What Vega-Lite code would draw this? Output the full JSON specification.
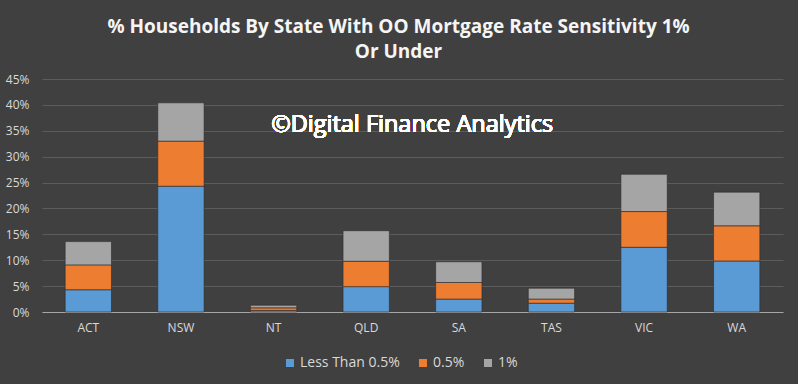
{
  "$schema": "https://vega.github.io/schema/vega-lite/v6.json",
  "width": 741,
  "height": 233,
  "autosize": {"type": "none"},
  "padding": {"left": 42, "top": 79, "right": 15, "bottom": 72},
  "background": "#404040",
  "title": {
    "text": ["% Households By State With OO Mortgage Rate Sensitivity 1%", "Or Under"],
    "anchor": "middle",
    "frame": "group",
    "dx": -14,
    "offset": 11,
    "font": "Open Sans",
    "fontSize": 19,
    "fontWeight": "bold",
    "color": "#f5f5f5",
    "lineHeight": 25
  },
  "config": {
    "view": {"stroke": null},
    "axis": {"labelFont": "Open Sans", "labelColor": "#d9d9d9", "labelFontSize": 12},
    "legend": {"labelFont": "Open Sans", "labelColor": "#d9d9d9", "labelFontSize": 14}
  },
  "data": {
    "values": [
      {"state": "ACT", "series": "Less Than 0.5%", "rank": 1, "value": 0.043},
      {"state": "ACT", "series": "0.5%", "rank": 2, "value": 0.048},
      {"state": "ACT", "series": "1%", "rank": 3, "value": 0.045},
      {"state": "NSW", "series": "Less Than 0.5%", "rank": 1, "value": 0.243},
      {"state": "NSW", "series": "0.5%", "rank": 2, "value": 0.087},
      {"state": "NSW", "series": "1%", "rank": 3, "value": 0.074},
      {"state": "NT", "series": "Less Than 0.5%", "rank": 1, "value": 0.003},
      {"state": "NT", "series": "0.5%", "rank": 2, "value": 0.005},
      {"state": "NT", "series": "1%", "rank": 3, "value": 0.005},
      {"state": "QLD", "series": "Less Than 0.5%", "rank": 1, "value": 0.049},
      {"state": "QLD", "series": "0.5%", "rank": 2, "value": 0.049},
      {"state": "QLD", "series": "1%", "rank": 3, "value": 0.059},
      {"state": "SA", "series": "Less Than 0.5%", "rank": 1, "value": 0.025},
      {"state": "SA", "series": "0.5%", "rank": 2, "value": 0.032},
      {"state": "SA", "series": "1%", "rank": 3, "value": 0.040},
      {"state": "TAS", "series": "Less Than 0.5%", "rank": 1, "value": 0.017},
      {"state": "TAS", "series": "0.5%", "rank": 2, "value": 0.008},
      {"state": "TAS", "series": "1%", "rank": 3, "value": 0.021},
      {"state": "VIC", "series": "Less Than 0.5%", "rank": 1, "value": 0.125},
      {"state": "VIC", "series": "0.5%", "rank": 2, "value": 0.069},
      {"state": "VIC", "series": "1%", "rank": 3, "value": 0.072},
      {"state": "WA", "series": "Less Than 0.5%", "rank": 1, "value": 0.0985},
      {"state": "WA", "series": "0.5%", "rank": 2, "value": 0.068},
      {"state": "WA", "series": "1%", "rank": 3, "value": 0.065}
    ]
  },
  "layer": [
    {
      "mark": {"type": "bar", "stroke": "#2a2a2a", "strokeWidth": 0.6},
      "encoding": {
        "x": {
          "field": "state", "type": "nominal", "sort": null,
          "scale": {"paddingInner": 0.5, "paddingOuter": 0.25},
          "axis": {"title": null, "labelAngle": 0, "ticks": false, "domainColor": "#a6a6a6", "domainWidth": 1.2, "labelPadding": 10, "grid": false}
        },
        "y": {
          "field": "value", "type": "quantitative", "stack": "zero",
          "scale": {"domain": [0, 0.45], "nice": false},
          "axis": {"title": null, "format": ".0%", "values": [0, 0.05, 0.1, 0.15, 0.2, 0.25, 0.3, 0.35, 0.4, 0.45], "labelOverlap": false, "labelFlush": false, "labelBound": false, "domain": false, "ticks": false, "labelPadding": 13, "gridColor": "#5c5c5c", "gridWidth": 1}
        },
        "order": {"field": "rank", "type": "quantitative"},
        "color": {
          "field": "series", "type": "nominal",
          "sort": ["Less Than 0.5%", "0.5%", "1%"],
          "scale": {"domain": ["Less Than 0.5%", "0.5%", "1%"], "range": ["#5b9bd5", "#ed7d31", "#a5a5a5"]},
          "legend": {"title": null, "orient": "none", "legendX": 241, "legendY": 277, "direction": "horizontal", "symbolType": "square", "symbolSize": 64, "symbolStrokeWidth": 0, "columnPadding": 16, "labelOffset": 3}
        }
      }
    },
    {
      "mark": {"type": "text", "font": "Open Sans", "fontSize": 23.5, "color": "#ffffff", "align": "center", "baseline": "middle", "dx": 46},
      "encoding": {
        "x": {"datum": "QLD", "type": "nominal", "axis": {"title": null, "labelAngle": 0, "ticks": false, "domainColor": "#a6a6a6", "domainWidth": 1.2, "labelPadding": 10, "grid": false}},
        "y": {
          "datum": 0.361, "type": "quantitative",
          "axis": {"title": null, "format": ".0%", "values": [0, 0.05, 0.1, 0.15, 0.2, 0.25, 0.3, 0.35, 0.4, 0.45], "labelOverlap": false, "labelFlush": false, "labelBound": false, "domain": false, "ticks": false, "labelPadding": 13, "gridColor": "#5c5c5c", "gridWidth": 1}
        },
        "text": {"value": "©Digital Finance Analytics"}
      }
    }
  ]
}
